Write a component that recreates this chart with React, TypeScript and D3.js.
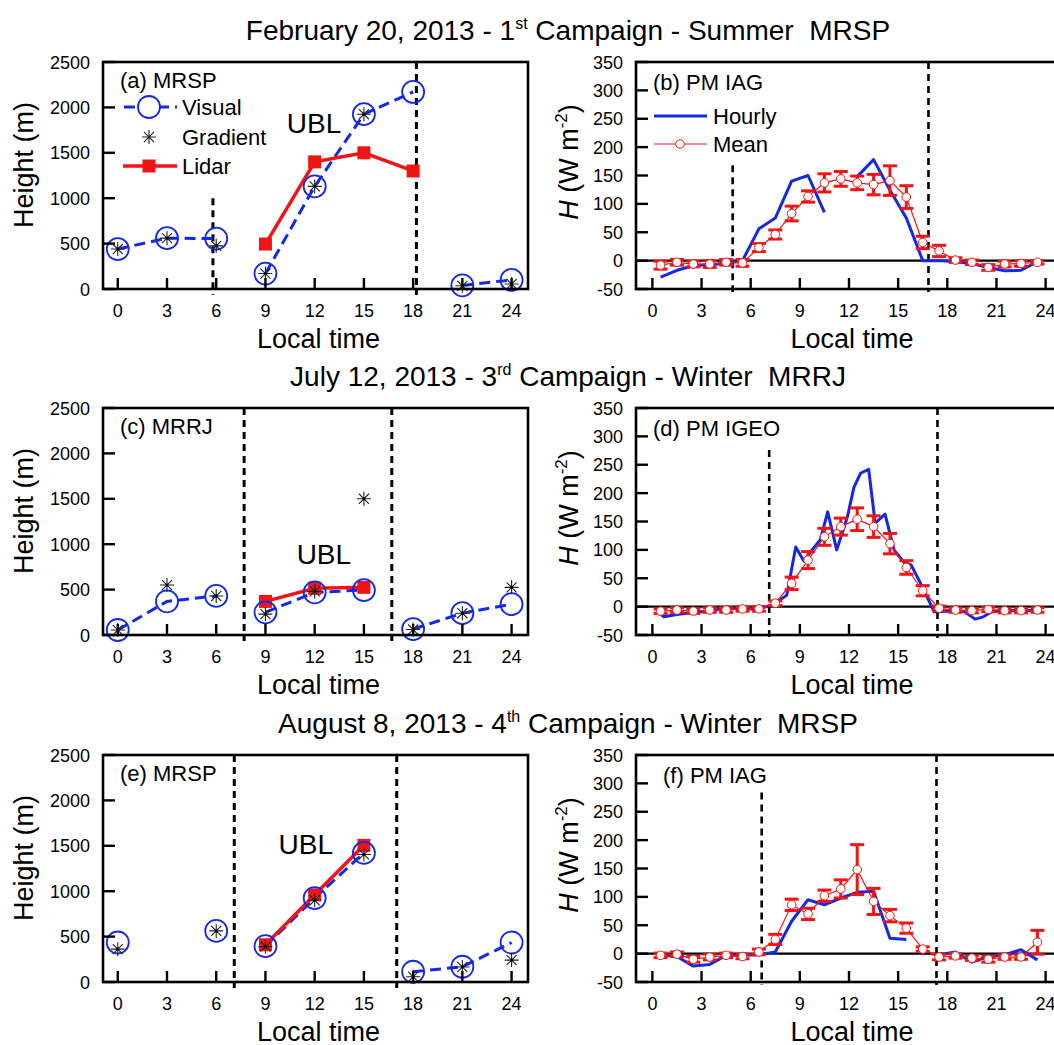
import React from 'react';
import * as d3 from 'd3';

// ---------- data ----------
const hourTicks = [0, 3, 6, 9, 12, 15, 18, 21, 24];
const heightTicks = [0, 500, 1000, 1500, 2000, 2500];
const fluxTicks = [-50, 0, 50, 100, 150, 200, 250, 300, 350];
const threeHourly = [0, 3, 6, 9, 12, 15, 18, 21, 24];
const halfHours = [0.5, 1.5, 2.5, 3.5, 4.5, 5.5, 6.5, 7.5, 8.5, 9.5, 10.5, 11.5, 12.5, 13.5, 14.5, 15.5, 16.5, 17.5, 18.5, 19.5, 20.5, 21.5, 22.5, 23.5];

// (a) MRSP - Feb 20
const visualA = [440, 560, 555, 170, 1130, 1925, 2170, 40, 100];
const visualSegA = [0, 0, 0, 1, 1, 1, 1, 2, 2];
const gradientA = [440, 560, 475, 170, 1130, 1925, null, 35, 55];
const lidarTimeA = [9, 12, 15, 18];
const lidarA = [495, 1400, 1500, 1300];
const transA = [5.8, 18.2];
const transTopA = [1000, 2500];

// (c) MRRJ - Jul 12
const visualC = [55, 370, 430, 250, 470, 495, 65, 240, 340];
const visualSegC = [0, 0, 0, 1, 1, 1, 2, 2, 2];
const gradientC = [55, 550, 430, 230, 480, 1500, 60, 240, 525];
const lidarTimeC = [9, 12, 15];
const lidarC = [370, 515, 525];
const transC = [7.7, 16.7];
const transTopC = [2500, 2500];

// (e) MRSP - Aug 8
const visualE = [435, null, 563, 395, 924, 1422, 113, 168, 435];
const visualSegE = [0, 0, 1, 2, 2, 2, 3, 3, 3];
const gradientE = [362, null, 563, 390, 900, 1405, 58, 165, 241];
const lidarTimeE = [9, 12, 15];
const lidarE = [410, 960, 1505];
const transE = [7.1, 17.0];
const transTopE = [2500, 2500];

// (b) PM IAG - hourly sensible heat flux
const hourTimeB = halfHours;
const hourlyB = [-29, -17, -9, -7, -5, 0, 56, 75, 140, 150, 85, null, 148, 178, 124, 75, 0, 0, -2, -5, -12, -18, -17, -2];
const meanB = [-8, -3, -6, -6, -3, -4, 23, 46, 83, 113, 137, 144, 137, 134, 141, 112, 32, 17, 1, -3, -12, -6, -5, -3];
const errB = [7, 5, 5, 6, 5, 6, 7, 8, 13, 10, 16, 13, 12, 18, 26, 20, 11, 10, 4, 4, 5, 5, 5, 3];
const transB = [4.9, 16.85];
const transTopB = [168, 350];

// (d) PM IGEO
const hourTimeD = [0.3, 0.7, 1.5, 2.5, 3.5, 4.5, 5.5, 6.5, 7.4, 8.2, 8.75, 9.25, 9.75, 10.25, 10.7, 11.25, 11.9, 12.3, 12.7, 13.2, 13.6, 14.2, 14.75, 15.3, 15.8, 16.3, 16.8, 17.2, 18.0, 19.0, 19.7, 20.2, 20.7, 21.5, 22.5, 23.5];
const hourlyD = [-8, -18, -14, -10, -8, -2, -4, -4, 4, 20, 105, 80, 100, 118, 167, 100, 158, 210, 235, 242, 147, 163, 100, 80, 73, 45, 15, -9, -8, -8, -22, -18, -9, -7, -7, -7];
const meanD = [-8, -6, -8, -6, -6, -4, -4, 6, 41, 82, 123, 141, 154, 141, 111, 69, 28, -3, -6, -7, -5, -7, -7, -6];
const errD = [4, 4, 4, 4, 4, 4, 4, 4, 11, 15, 15, 15, 20, 19, 18, 12, 9, 4, 4, 4, 4, 4, 4, 4];
const transD = [7.13, 17.4];
const transTopD = [276, 350];

// (f) PM IAG
const hourTimeF = halfHours;
const hourlyF = [-2, -5, -22, -19, -3, -3, -2, 3, 57, 95, 86, 98, 108, 110, 27, 25, null, -2, 3, -15, -5, -2, 7, -11];
const meanF = [-3, -1, -10, -6, -3, -5, 3, 25, 86, 70, 102, 114, 148, 92, 67, 45, 8, -6, -4, -8, -10, -6, -6, 20];
const errF = [4, 4, 5, 5, 4, 4, 5, 9, 10, 10, 10, 16, 44, 23, 11, 9, 4, 5, 4, 4, 5, 4, 4, 21];
const transF = [6.67, 17.34];
const transTopF = [284, 350];

// ---------- styles ----------
const FONT = "'Liberation Sans', Arial, Helvetica, sans-serif";
const BLUE = '#1428e6';
const RED = '#f01414';
const PH = 227; // plot height
const ROW_TOPS = [62, 408, 755];
const LX = [103, 528];
const RX = [636, 1062];

function asteriskPath(s: number) {
  const d = s * 0.72;
  return `M${-s},0H${s}M0,${-s}V${s}M${-d},${-d}L${d},${d}M${-d},${d}L${d},${-d}`;
}

type HP = {
  top: number; label: string; visual: (number | null)[]; seg: number[];
  gradient: (number | null)[]; lidarT: number[]; lidar: number[];
  trans: number[]; transTop: number[]; ubl: [number, number]; legend?: boolean;
};

function HeightPanel(p: HP) {
  const x = d3.scaleLinear().domain([-0.9, 25]).range(LX);
  const y = d3.scaleLinear().domain([0, 2500]).range([p.top + PH, p.top]);
  const bottom = p.top + PH;
  const line = d3.line<[number, number]>().x(d => x(d[0])).y(d => y(d[1]));
  const groups = d3.groups(
    threeHourly.map((t, i) => ({ t, v: p.visual[i], g: p.seg[i] })).filter(d => d.v != null),
    d => d.g
  );
  const cx = (LX[0] + LX[1]) / 2 + 3;
  return (
    <g>
      {p.trans.map((t, i) => (
        <line key={'tr' + i} x1={x(t)} x2={x(t)} y1={y(p.transTop[i])} y2={bottom + 6}
          stroke="#000" strokeWidth={3} strokeDasharray="7,5" />
      ))}
      {groups.map(([g, pts]) => (
        <path key={'vl' + g} d={line(pts.map(d => [d.t, d.v as number]))!} fill="none"
          stroke={BLUE} strokeWidth={3} strokeDasharray="11,6" />
      ))}
      <path d={line(p.lidarT.map((t, i) => [t, p.lidar[i]]))!} fill="none" stroke={RED} strokeWidth={3.5} />
      {p.lidarT.map((t, i) => (
        <rect key={'ld' + i} x={x(t) - 6.5} y={y(p.lidar[i]) - 6.5} width={13} height={13} fill={RED} />
      ))}
      {threeHourly.map((t, i) => p.visual[i] == null ? null : (
        <circle key={'vc' + i} cx={x(t)} cy={y(p.visual[i] as number)} r={11} fill="none" stroke={BLUE} strokeWidth={1.8} />
      ))}
      {threeHourly.map((t, i) => p.gradient[i] == null ? null : (
        <g key={'ga' + i} transform={`translate(${x(t)},${y(p.gradient[i] as number)})`}>
          <path d={asteriskPath(7)} stroke="#222" strokeWidth={1.1} fill="none" />
          <circle r={1.3} fill="#000" />
        </g>
      ))}
      <rect x={LX[0]} y={p.top} width={LX[1] - LX[0]} height={PH} fill="none" stroke="#000" strokeWidth={2.6} />
      {hourTicks.map(t => (
        <g key={'xt' + t}>
          <line x1={x(t)} x2={x(t)} y1={bottom} y2={bottom - 11} stroke="#000" strokeWidth={2.4} />
          <text x={x(t)} y={bottom + 28} textAnchor="middle" fontSize={18} fontFamily={FONT}>{t}</text>
        </g>
      ))}
      {heightTicks.map(v => (
        <g key={'yt' + v}>
          <line x1={LX[0]} x2={LX[0] + 12} y1={y(v)} y2={y(v)} stroke="#000" strokeWidth={2.4} />
          <text x={90} y={y(v) + 6.5} textAnchor="end" fontSize={18} fontFamily={FONT}>{v}</text>
        </g>
      ))}
      <text x={cx} y={bottom + 59} textAnchor="middle" fontSize={27} fontFamily={FONT}>Local time</text>
      <text transform={`translate(33,${p.top + 103}) rotate(-90)`} textAnchor="middle" fontSize={27} fontFamily={FONT}>Height (m)</text>
      <text x={120} y={p.top + 26} fontSize={22} fontFamily={FONT}>{p.label}</text>
      <text x={x(p.ubl[0])} y={y(p.ubl[1])} fontSize={28} fontFamily={FONT}>UBL</text>
      {p.legend && (
        <g fontFamily={FONT} fontSize={22}>
          <line x1={123} x2={177} y1={p.top + 45} y2={p.top + 45} stroke={BLUE} strokeWidth={3} strokeDasharray="11,6" strokeDashoffset={-1} />
          <circle cx={149} cy={p.top + 45} r={11} fill="#fff" stroke={BLUE} strokeWidth={1.8} />
          <text x={182} y={p.top + 53}>Visual</text>
          <g transform={`translate(149,${p.top + 75})`}>
            <path d={asteriskPath(7)} stroke="#222" strokeWidth={1.1} fill="none" />
          </g>
          <text x={182} y={p.top + 83}>Gradient</text>
          <line x1={123} x2={177} y1={p.top + 104} y2={p.top + 104} stroke={RED} strokeWidth={3.5} />
          <rect x={149 - 6.5} y={p.top + 104 - 6.5} width={13} height={13} fill={RED} />
          <text x={182} y={p.top + 112}>Lidar</text>
        </g>
      )}
    </g>
  );
}

type FP = {
  top: number; label: string; labelX: number; hourT: number[]; hourly: (number | null)[];
  mean: number[]; err: number[]; trans: number[]; transTop: number[]; legend?: boolean;
};

function FluxPanel(p: FP) {
  const x = d3.scaleLinear().domain([-1, 25]).range(RX);
  const y = d3.scaleLinear().domain([-50, 350]).range([p.top + PH, p.top]);
  const bottom = p.top + PH;
  const hourLine = d3.line<number>()
    .defined(i => p.hourly[i] != null)
    .x(i => x(p.hourT[i])).y(i => y(p.hourly[i] as number));
  const meanLine = d3.line<number>().x(i => x(halfHours[i])).y(i => y(p.mean[i]));
  const idxH = p.hourT.map((_, i) => i);
  const idxM = halfHours.map((_, i) => i);
  const cx = (RX[0] + RX[1]) / 2 + 3;
  return (
    <g>
      {p.trans.map((t, i) => (
        <line key={'tr' + i} x1={x(t)} x2={x(t)} y1={y(p.transTop[i])} y2={bottom + 3}
          stroke="#000" strokeWidth={2.6} strokeDasharray="7,5" />
      ))}
      <line x1={RX[0]} x2={RX[1]} y1={y(0)} y2={y(0)} stroke="#000" strokeWidth={2.2} />
      <path d={hourLine(idxH)!} fill="none" stroke={BLUE} strokeWidth={3} strokeLinejoin="round" />
      <path d={meanLine(idxM)!} fill="none" stroke={RED} strokeWidth={1.2} />
      {idxM.map(i => {
        const xx = x(halfHours[i]);
        const y1 = y(p.mean[i] + p.err[i]);
        const y2 = y(p.mean[i] - p.err[i]);
        return (
          <g key={'eb' + i}>
            <line x1={xx} x2={xx} y1={y1} y2={y2} stroke={RED} strokeWidth={3} />
            <line x1={xx - 7} x2={xx + 7} y1={y1} y2={y1} stroke={RED} strokeWidth={3} />
            <line x1={xx - 7} x2={xx + 7} y1={y2} y2={y2} stroke={RED} strokeWidth={3} />
            <circle cx={xx} cy={y(p.mean[i])} r={4.3} fill="#fff" stroke={RED} strokeWidth={1} />
          </g>
        );
      })}
      <rect x={RX[0]} y={p.top} width={RX[1] - RX[0]} height={PH} fill="none" stroke="#000" strokeWidth={2.6} />
      {hourTicks.map(t => (
        <g key={'xt' + t}>
          <line x1={x(t)} x2={x(t)} y1={bottom} y2={bottom - 11} stroke="#000" strokeWidth={2.4} />
          <text x={x(t)} y={bottom + 28} textAnchor="middle" fontSize={18} fontFamily={FONT}>{t}</text>
        </g>
      ))}
      {fluxTicks.map(v => (
        <g key={'yt' + v}>
          <line x1={RX[0]} x2={RX[0] + 12} y1={y(v)} y2={y(v)} stroke="#000" strokeWidth={2.4} />
          <text x={623} y={y(v) + 6.5} textAnchor="end" fontSize={18} fontFamily={FONT}>{v}</text>
        </g>
      ))}
      <text x={cx} y={bottom + 59} textAnchor="middle" fontSize={27} fontFamily={FONT}>Local time</text>
      <text transform={`translate(578,${p.top + 100}) rotate(-90)`} textAnchor="middle" fontSize={27} fontFamily={FONT}>
        <tspan fontStyle="italic">H</tspan> (W m<tspan dy={-11} fontSize={17}>-2</tspan><tspan dy={11}>)</tspan>
      </text>
      <text x={p.labelX} y={p.top + 28} fontSize={22} fontFamily={FONT}>{p.label}</text>
      {p.legend && (
        <g fontFamily={FONT} fontSize={22}>
          <line x1={654} x2={707} y1={p.top + 54} y2={p.top + 54} stroke={BLUE} strokeWidth={3} />
          <text x={713} y={p.top + 62}>Hourly</text>
          <line x1={654} x2={707} y1={p.top + 82} y2={p.top + 82} stroke={RED} strokeWidth={1.2} />
          <circle cx={680} cy={p.top + 82} r={4.3} fill="#fff" stroke={RED} strokeWidth={1} />
          <text x={713} y={p.top + 90}>Mean</text>
        </g>
      )}
    </g>
  );
}

function Title({ y, pre, sup, post }: { y: number; pre: string; sup: string; post: string }) {
  return (
    <text x={568} y={y} textAnchor="middle" fontSize={28} fontFamily={FONT} style={{ whiteSpace: 'pre' }}>
      {pre}<tspan dy={-11} fontSize={16}>{sup}</tspan><tspan dy={11}>{post}</tspan>
    </text>
  );
}

export default function App() {
  return (
    <svg width={1054} height={1045} style={{ position: 'absolute', left: 0, top: 0, background: '#fff' }}>
      <rect width={1054} height={1045} fill="#fff" />
      <Title y={ROW_TOPS[0] - 22} pre="February 20, 2013 - 1" sup="st" post=" Campaign - Summer  MRSP" />
      <Title y={ROW_TOPS[1] - 22} pre="July 12, 2013 - 3" sup="rd" post=" Campaign - Winter  MRRJ" />
      <Title y={ROW_TOPS[2] - 22} pre="August 8, 2013 - 4" sup="th" post=" Campaign - Winter  MRSP" />

      <HeightPanel top={ROW_TOPS[0]} label="(a) MRSP" visual={visualA} seg={visualSegA} gradient={gradientA}
        lidarT={lidarTimeA} lidar={lidarA} trans={transA} transTop={transTopA} ubl={[10.3, 1715]} legend />
      <HeightPanel top={ROW_TOPS[1]} label="(c) MRRJ" visual={visualC} seg={visualSegC} gradient={gradientC}
        lidarT={lidarTimeC} lidar={lidarC} trans={transC} transTop={transTopC} ubl={[10.9, 780]} />
      <HeightPanel top={ROW_TOPS[2]} label="(e) MRSP" visual={visualE} seg={visualSegE} gradient={gradientE}
        lidarT={lidarTimeE} lidar={lidarE} trans={transE} transTop={transTopE} ubl={[9.8, 1414]} />

      <FluxPanel top={ROW_TOPS[0]} label="(b) PM IAG" labelX={653} hourT={hourTimeB} hourly={hourlyB}
        mean={meanB} err={errB} trans={transB} transTop={transTopB} legend />
      <FluxPanel top={ROW_TOPS[1]} label="(d) PM IGEO" labelX={653} hourT={hourTimeD} hourly={hourlyD}
        mean={meanD} err={errD} trans={transD} transTop={transTopD} />
      <FluxPanel top={ROW_TOPS[2]} label="(f) PM IAG" labelX={663} hourT={hourTimeF} hourly={hourlyF}
        mean={meanF} err={errF} trans={transF} transTop={transTopF} />
    </svg>
  );
}
